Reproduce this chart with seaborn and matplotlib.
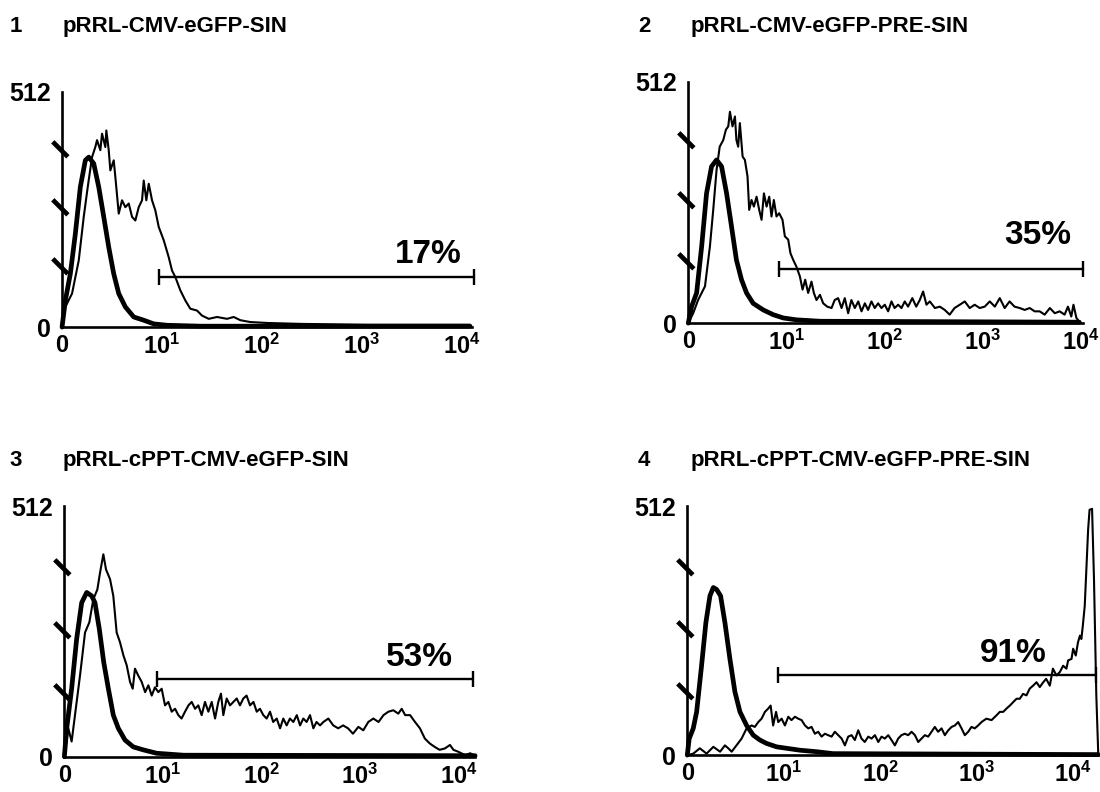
import numpy as np
import matplotlib
matplotlib.use('Agg')
import matplotlib.pyplot as plt
import seaborn as sns
from matplotlib.path import Path

# x values are in decades (0 = first decade start, 4 = 10^4), y values in cell counts (0-512)

titles = ['pRRL-CMV-eGFP-SIN', 'pRRL-CMV-eGFP-PRE-SIN',
          'pRRL-cPPT-CMV-eGFP-SIN', 'pRRL-cPPT-CMV-eGFP-PRE-SIN']
panel_numbers = ['1', '2', '3', '4']
x_tick_pos = [0, 1, 2, 3, 4]
x_tick_labels = ['0', r'$\mathbf{10^{1}}$', r'$\mathbf{10^{2}}$', r'$\mathbf{10^{3}}$', r'$\mathbf{10^{4}}$']
y_marks = [128, 256, 384]
gate_pct = ['17%', '35%', '53%', '91%']
gate_start = [0.97, 0.92, 0.94, 0.94]
gate_end = [4.12, 4.02, 4.15, 4.24]
gate_level = [108, 114, 159, 164]

# panel 1
p1_ctrl_x = [0, 0.033, 0.083, 0.133, 0.183, 0.233, 0.267, 0.317, 0.367, 0.417, 0.467, 0.517,
             0.567, 0.633, 0.717, 0.817, 0.917, 1.05, 1.38, 4.08]
p1_ctrl_y = [0, 58, 116, 203, 305, 363, 370, 356, 305, 240, 174, 116, 73, 44, 22, 15, 7, 4, 2, 2]
p1_gfp_x = [0, 0.033, 0.10, 0.167, 0.217, 0.257, 0.30, 0.333, 0.35, 0.383, 0.40, 0.433, 0.443,
            0.467, 0.483, 0.517, 0.533, 0.567, 0.60, 0.633, 0.667, 0.70, 0.733, 0.767, 0.80,
            0.817, 0.843, 0.867, 0.90, 0.933, 0.967, 1.017, 1.067, 1.10, 1.133, 1.183, 1.233,
            1.283, 1.35, 1.40, 1.467, 1.55, 1.65, 1.717, 1.783, 1.883, 2.05, 2.383, 2.717,
            3.05, 4.08]
p1_gfp_y = [0, 44, 73, 145, 240, 305, 370, 392, 407, 385, 421, 392, 428, 385, 341, 363, 327,
            247, 276, 261, 269, 240, 232, 261, 276, 319, 276, 312, 276, 254, 218, 189, 152,
            123, 109, 80, 58, 40, 36, 25, 18, 22, 18, 22, 15, 11, 9, 7, 6, 5, 5]

# panel 2
p2_ctrl_x = [0, 0.034, 0.085, 0.136, 0.186, 0.237, 0.288, 0.339, 0.39, 0.44, 0.49, 0.542,
             0.593, 0.66, 0.763, 0.864, 0.966, 1.1, 1.34, 3.98]
p2_ctrl_y = [0, 35, 64, 162, 275, 332, 346, 332, 275, 205, 134, 92, 64, 42, 28, 18, 11, 7, 4, 2]
p2_gfp_x = [0, 0.05, 0.10, 0.17, 0.22, 0.254, 0.288, 0.32, 0.356, 0.383, 0.407, 0.424, 0.45,
            0.475, 0.49, 0.508, 0.525, 0.553, 0.576, 0.603, 0.62, 0.644, 0.668, 0.695, 0.722,
            0.746, 0.77, 0.797, 0.824, 0.847, 0.871, 0.898, 0.925, 0.959, 0.983, 1.017, 1.04,
            1.068, 1.10, 1.136, 1.163, 1.19, 1.22, 1.254, 1.278, 1.305, 1.34, 1.373, 1.414,
            1.458, 1.49, 1.525, 1.56, 1.593, 1.627, 1.66, 1.695, 1.73, 1.763, 1.797, 1.83,
            1.864, 1.898, 1.932, 1.966, 2.0, 2.034, 2.068, 2.10, 2.136, 2.17, 2.203, 2.237,
            2.28, 2.32, 2.356, 2.39, 2.424, 2.458, 2.51, 2.56, 2.61, 2.66, 2.71, 2.763, 2.814,
            2.864, 2.915, 2.966, 3.017, 3.068, 3.12, 3.17, 3.22, 3.27, 3.32, 3.373, 3.424,
            3.475, 3.525, 3.576, 3.627, 3.68, 3.73, 3.78, 3.83, 3.864, 3.898, 3.92, 3.95, 3.976]
p2_gfp_y = [0, 21, 49, 78, 162, 240, 325, 374, 388, 410, 417, 448, 417, 438, 388, 374, 424,
            353, 346, 311, 240, 261, 247, 268, 240, 219, 275, 247, 268, 226, 261, 226, 233,
            219, 184, 177, 148, 134, 120, 99, 71, 92, 64, 88, 64, 49, 60, 42, 35, 32, 49, 53,
            32, 53, 21, 49, 32, 46, 25, 42, 28, 46, 32, 42, 32, 39, 25, 46, 32, 39, 32, 46,
            35, 53, 35, 49, 67, 39, 46, 32, 35, 28, 18, 32, 39, 46, 32, 39, 32, 35, 46, 35,
            53, 32, 46, 35, 32, 28, 32, 25, 25, 18, 32, 21, 25, 18, 35, 14, 39, 11, 4]

# panel 3
p3_ctrl_x = [0, 0.024, 0.074, 0.125, 0.176, 0.227, 0.277, 0.311, 0.355, 0.40, 0.447, 0.497,
             0.548, 0.616, 0.70, 0.80, 0.937, 1.21, 4.17]
p3_ctrl_y = [0, 58, 139, 241, 315, 336, 329, 315, 261, 193, 139, 85, 58, 34, 20, 14, 7, 3, 2]
p3_gfp_x = [0, 0.04, 0.074, 0.108, 0.159, 0.21, 0.254, 0.294, 0.335, 0.362, 0.396, 0.423,
            0.464, 0.497, 0.531, 0.565, 0.60, 0.633, 0.667, 0.694, 0.717, 0.75, 0.785, 0.82,
            0.853, 0.887, 0.92, 0.954, 0.988, 1.022, 1.056, 1.09, 1.124, 1.157, 1.19, 1.225,
            1.26, 1.293, 1.327, 1.36, 1.394, 1.428, 1.462, 1.496, 1.53, 1.563, 1.59, 1.614,
            1.648, 1.682, 1.716, 1.75, 1.783, 1.817, 1.85, 1.885, 1.92, 1.953, 1.986, 2.02,
            2.054, 2.088, 2.12, 2.156, 2.19, 2.223, 2.257, 2.29, 2.325, 2.36, 2.393, 2.426,
            2.46, 2.494, 2.528, 2.56, 2.596, 2.63, 2.68, 2.73, 2.78, 2.83, 2.88, 2.93, 2.985,
            3.035, 3.086, 3.137, 3.19, 3.24, 3.29, 3.34, 3.39, 3.425, 3.46, 3.51, 3.56, 3.61,
            3.66, 3.71, 3.76, 3.81, 3.865, 3.915, 3.95, 4.0, 4.07, 4.12, 4.17]
p3_gfp_y = [0, 58, 31, 85, 166, 254, 275, 322, 342, 376, 414, 383, 363, 329, 254, 234, 207,
            187, 153, 139, 180, 166, 153, 132, 146, 125, 142, 132, 139, 105, 112, 92, 98, 85,
            78, 92, 105, 112, 98, 105, 85, 112, 92, 112, 78, 112, 129, 85, 119, 105, 112, 119,
            105, 119, 125, 105, 112, 92, 98, 85, 78, 92, 71, 78, 58, 78, 64, 78, 71, 85, 64,
            78, 71, 85, 58, 71, 64, 71, 78, 64, 58, 64, 58, 47, 61, 54, 71, 78, 71, 85, 92,
            95, 88, 98, 85, 85, 71, 58, 37, 27, 20, 14, 17, 24, 14, 10, 3, 7, 2]

# panel 4
p4_ctrl_x = [0, 0.02, 0.062, 0.097, 0.148, 0.193, 0.235, 0.27, 0.304, 0.345, 0.39, 0.442,
             0.494, 0.546, 0.615, 0.684, 0.753, 0.822, 0.926, 1.03, 1.17, 1.34, 1.51, 4.26]
p4_ctrl_y = [0, 34, 55, 89, 184, 273, 328, 345, 341, 328, 273, 198, 130, 89, 61, 41, 31, 24,
             17, 14, 10, 7, 3, 1]
p4_gfp_x = [0, 0.062, 0.13, 0.2, 0.27, 0.34, 0.39, 0.425, 0.46, 0.51, 0.563, 0.615, 0.667,
            0.70, 0.736, 0.77, 0.805, 0.84, 0.864, 0.89, 0.92, 0.943, 0.978, 1.012, 1.047,
            1.08, 1.116, 1.15, 1.185, 1.22, 1.254, 1.288, 1.323, 1.357, 1.392, 1.427, 1.46,
            1.496, 1.53, 1.565, 1.6, 1.634, 1.668, 1.703, 1.737, 1.772, 1.806, 1.84, 1.876,
            1.91, 1.945, 1.98, 2.014, 2.048, 2.083, 2.117, 2.152, 2.186, 2.22, 2.255, 2.29,
            2.325, 2.36, 2.394, 2.428, 2.463, 2.497, 2.532, 2.566, 2.6, 2.636, 2.67, 2.705,
            2.74, 2.774, 2.808, 2.843, 2.877, 2.912, 2.946, 2.98, 3.015, 3.05, 3.1, 3.154,
            3.206, 3.24, 3.275, 3.31, 3.344, 3.378, 3.413, 3.447, 3.48, 3.516, 3.55, 3.585,
            3.62, 3.654, 3.69, 3.72, 3.758, 3.79, 3.827, 3.862, 3.896, 3.93, 3.948, 3.983,
            4.0, 4.027, 4.05, 4.07, 4.085, 4.1, 4.12, 4.14, 4.155, 4.17, 4.196, 4.216, 4.24,
            4.26]
p4_gfp_y = [0, 3, 14, 3, 17, 7, 20, 14, 7, 20, 34, 55, 61, 58, 68, 75, 89, 96, 102, 61, 89,
            68, 75, 61, 79, 72, 79, 75, 72, 61, 55, 58, 44, 48, 38, 44, 41, 38, 48, 41, 34,
            20, 38, 41, 31, 51, 34, 27, 38, 34, 41, 27, 38, 34, 41, 31, 20, 34, 41, 44, 41,
            48, 41, 27, 34, 41, 38, 48, 58, 48, 55, 41, 51, 58, 61, 68, 55, 41, 48, 58, 55,
            61, 68, 75, 72, 82, 89, 89, 96, 102, 109, 116, 116, 126, 123, 137, 143, 150, 140,
            150, 157, 143, 178, 164, 171, 184, 178, 195, 198, 219, 205, 232, 246, 239, 266,
            307, 396, 464, 505, 507, 362, 123, 3]

ctrl_x = [p1_ctrl_x, p2_ctrl_x, p3_ctrl_x, p4_ctrl_x]
ctrl_y = [p1_ctrl_y, p2_ctrl_y, p3_ctrl_y, p4_ctrl_y]
gfp_x = [p1_gfp_x, p2_gfp_x, p3_gfp_x, p4_gfp_x]
gfp_y = [p1_gfp_y, p2_gfp_y, p3_gfp_y, p4_gfp_y]

# layout: axes rectangles (figure fraction), x limit, percent label anchor, title spot
axes_rects = [[0.0564, 0.587, 0.3727, 0.297],
              [0.6257, 0.592, 0.3591, 0.305],
              [0.0585, 0.0446, 0.3734, 0.316],
              [0.6248, 0.0466, 0.3736, 0.314]]
x_right = [4.1, 4.02, 4.17, 4.26]
label_spot = [(4.0, 124), (3.9, 152), (3.95, 172), (3.72, 177)]
title_spot = [(0.009, 0.966), (0.580, 0.966), (0.009, 0.418), (0.580, 0.418)]
title_gap = 0.048

sns.set_style('white')
plt.rcParams['font.family'] = ['Liberation Sans', 'DejaVu Sans']
plt.rcParams['font.weight'] = 'bold'
plt.rcParams['text.color'] = 'black'
plt.rcParams['xtick.color'] = 'black'
plt.rcParams['ytick.color'] = 'black'
plt.rcParams['mathtext.fontset'] = 'custom'
plt.rcParams['mathtext.rm'] = 'Liberation Sans:bold'
plt.rcParams['mathtext.bf'] = 'Liberation Sans:bold'

slash = Path([(-1.0, 1.0), (0.55, -0.55)], [Path.MOVETO, Path.LINETO])


def draw_panel(fig, i):
    ax = fig.add_axes(axes_rects[i])
    sns.lineplot(x=gfp_x[i], y=gfp_y[i], ax=ax, color='black', linewidth=1.5,
                 estimator=None, sort=False, clip_on=False)
    sns.lineplot(x=ctrl_x[i], y=ctrl_y[i], ax=ax, color='black', linewidth=3.4,
                 estimator=None, sort=False, clip_on=False)
    ax.plot([gate_start[i], gate_end[i]], [gate_level[i], gate_level[i]], color='black',
            linewidth=1.7, marker='|', markersize=11, markeredgewidth=1.7, clip_on=False)
    ax.text(label_spot[i][0], label_spot[i][1], gate_pct[i], ha='right', va='bottom',
            fontsize=24, fontweight='bold')
    ax.plot([0] * len(y_marks), y_marks, linestyle='none', marker=slash, markersize=14,
            markeredgewidth=3.4, color='black', clip_on=False)

    ax.set_xlim(0, x_right[i])
    ax.set_ylim(0, 512)
    ax.set_xticks(x_tick_pos)
    ax.set_xticklabels(x_tick_labels)
    ax.set_yticks([0, 512])
    ax.set_yticklabels(['0', '512'])
    ax.tick_params(axis='both', length=0)
    ax.tick_params(axis='x', pad=5, labelsize=17)
    ax.tick_params(axis='y', pad=8, labelsize=18)
    for lab in ax.get_xticklabels() + ax.get_yticklabels():
        lab.set_fontweight('bold')
    sns.despine(ax=ax)
    for side in ['left', 'bottom']:
        ax.spines[side].set_linewidth(1.9)
        ax.spines[side].set_color('black')
    ax.set_xlabel('')
    ax.set_ylabel('')
    ax.patch.set_alpha(0)

    tx, ty = title_spot[i]
    fig.text(tx, ty, panel_numbers[i], fontsize=16, fontweight='bold', va='center')
    fig.text(tx + title_gap, ty, titles[i], fontsize=16, fontweight='bold', va='center')
    return ax


fig = plt.figure(figsize=(11, 7.92), dpi=100)
for i in range(4):
    draw_panel(fig, i)

fig.savefig('out.png', dpi=100)
